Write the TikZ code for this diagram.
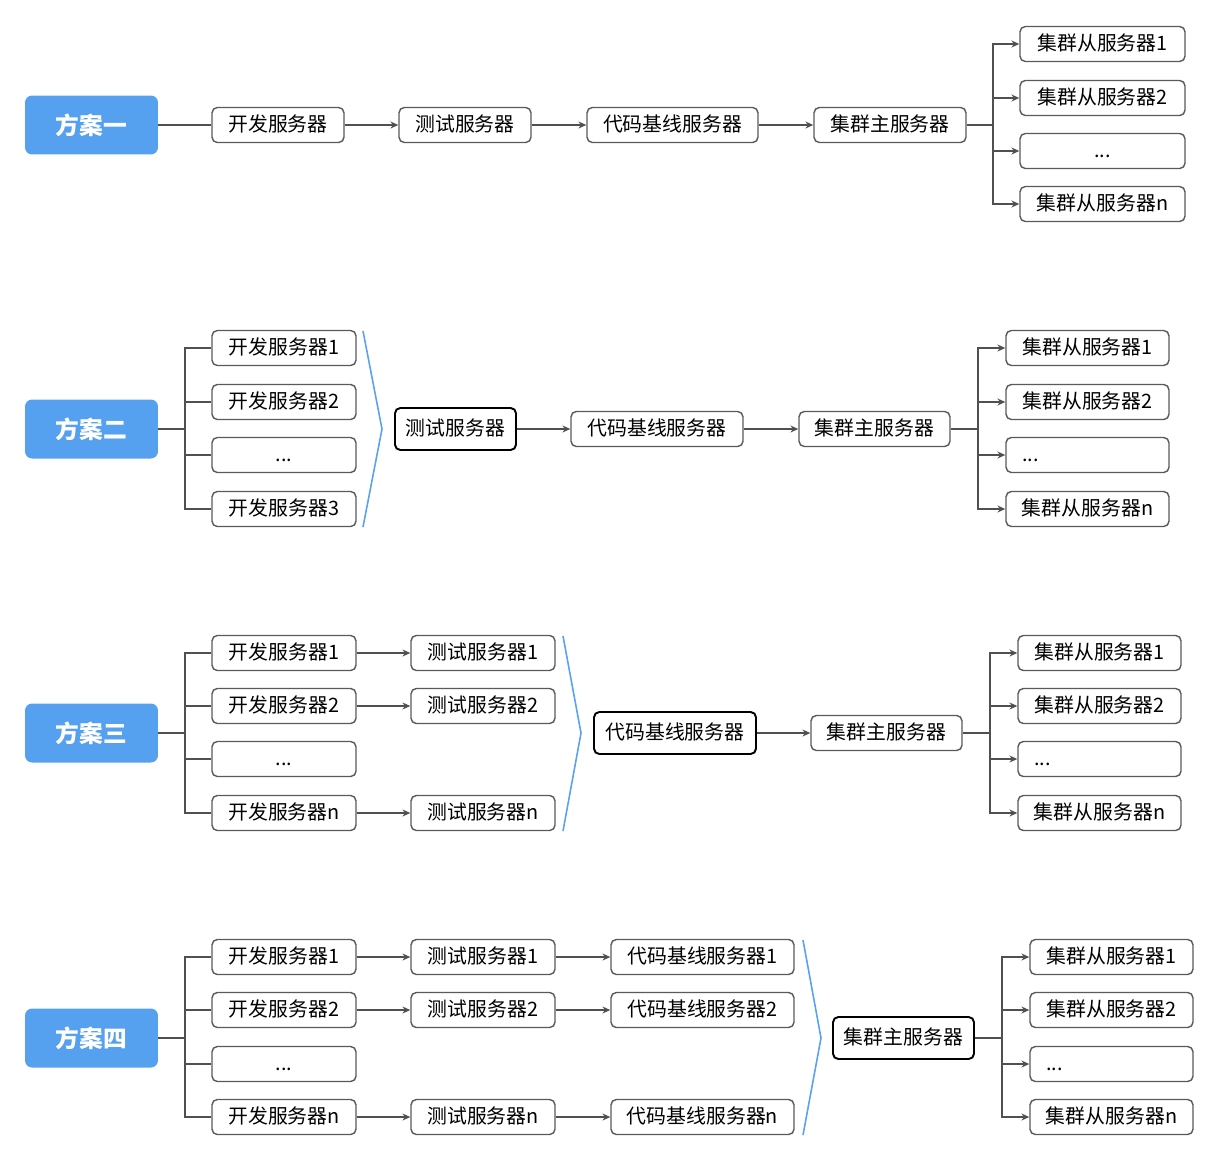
\documentclass[tikz,border=0pt]{standalone}
\usepackage{fontspec}
\newfontfamily\cjk{Noto Sans CJK SC}
\usepackage{tikz}
\usetikzlibrary{arrows.meta, calc}
\definecolor{planBlue}{RGB}{85,161,239}
\definecolor{braceBlue}{RGB}{88,162,240}
\definecolor{boxGray}{RGB}{90,90,90}
\definecolor{lineGray}{RGB}{80,80,80}

\begin{document}
\begin{tikzpicture}[x=0.02cm, y=-0.02cm,
  plan/.style={fill=planBlue, rounded corners=4pt, minimum width=2.66cm, minimum height=1.18cm,
    text=white, font=\cjk\bfseries\fontsize{13.5}{16}\selectfont},
  srv/.style={draw=boxGray, line width=0.8pt, rounded corners=3pt, fill=white, minimum height=0.7cm,
    inner sep=2pt, text height=9pt, text depth=2pt, font=\cjk\fontsize{11.3}{13}\selectfont},
  hub/.style={srv, draw=black, line width=1.1pt, minimum height=0.84cm},
  gap/.style={srv, minimum width=3.26cm, text width=88.4pt, align=left},
  link/.style={draw=lineGray, line width=0.75pt},
  flow/.style={link, -{Stealth[length=4.5pt,width=4pt]}},
  merge/.style={draw=braceBlue, line width=0.9pt}]
\useasboundingbox (0,0) rectangle (1217,1160);

% plan one
\node[plan] (p1) at (91.5,125) {方案一};
\node[srv, minimum width=2.64cm] (d1) at (278,125) {开发服务器};
\node[srv, minimum width=2.64cm] (t1) at (465,125) {测试服务器};
\node[srv, minimum width=3.42cm] (b1) at (672.5,125) {代码基线服务器};
\node[srv, minimum width=3.04cm] (m1) at (890,125) {集群主服务器};
\foreach \i/\y/\n in {1/44/1, 2/98/2, 4/204/n}
  \node[srv, minimum width=3.3cm] (s1-\i) at (1102.5,\y) {集群从服务器\n};
\node[srv, minimum width=3.3cm] (s1-3) at (1102.5,151) {...};
\coordinate (j1) at (993,125);
\draw[link] (p1) -- (d1);
\draw[flow] (d1) -- (t1);
\draw[flow] (t1) -- (b1);
\draw[flow] (b1) -- (m1);
\draw[link] (m1) -- (j1);
\foreach \i in {1,...,4}
  \draw[flow] (j1) |- (s1-\i);

% plan two
\node[plan] (p2) at (91.5,429) {方案二};
\foreach \i/\y/\n in {1/348/1, 2/402/2, 4/509/3}
  \node[srv, minimum width=2.88cm] (d2-\i) at (284,\y) {开发服务器\n};
\node[srv, minimum width=2.88cm] (d2-3) at (284,455) {...};
\node[hub, minimum width=2.42cm] (t2) at (455.5,429) {测试服务器};
\node[srv, minimum width=3.44cm] (b2) at (657,429) {代码基线服务器};
\node[srv, minimum width=3.02cm] (m2) at (874.5,429) {集群主服务器};
\foreach \i/\y/\n in {1/348/1, 2/402/2, 4/509/n}
  \node[srv, minimum width=3.26cm] (s2-\i) at (1087.5,\y) {集群从服务器\n};
\node[gap] (s2-3) at (1087.5,455) {\hspace*{7pt}...};
\coordinate (i2) at (185,429);
\coordinate (j2) at (978,429);
\draw[link] (p2) -- (i2);
\foreach \i in {1,...,4}
  \draw[link] (i2) |- (d2-\i);
\draw[merge] (363,331) -- (382,429) -- (363,527);
\draw[flow] (t2) -- (b2);
\draw[flow] (b2) -- (m2);
\draw[link] (m2) -- (j2);
\foreach \i in {1,...,4}
  \draw[flow] (j2) |- (s2-\i);

% plan three
\node[plan] (p3) at (91.5,733) {方案三};
\foreach \i/\y/\n in {1/653/1, 2/706/2, 4/813/n} {
  \node[srv, minimum width=2.88cm] (d3-\i) at (284,\y) {开发服务器\n};
  \node[srv, minimum width=2.88cm] (t3-\i) at (483,\y) {测试服务器\n};
  \draw[flow] (d3-\i) -- (t3-\i);
}
\node[srv, minimum width=2.88cm] (d3-3) at (284,759) {...};
\node[hub, minimum width=3.24cm] (b3) at (675,733) {代码基线服务器};
\node[srv, minimum width=3.02cm] (m3) at (886.5,733) {集群主服务器};
\foreach \i/\y/\n in {1/653/1, 2/706/2, 4/813/n}
  \node[srv, minimum width=3.26cm] (s3-\i) at (1099.5,\y) {集群从服务器\n};
\node[gap] (s3-3) at (1099.5,759) {\hspace*{7pt}...};
\coordinate (i3) at (185,733);
\coordinate (j3) at (990,733);
\draw[link] (p3) -- (i3);
\foreach \i in {1,...,4}
  \draw[link] (i3) |- (d3-\i);
\draw[merge] (563,636) -- (581,733) -- (563,831);
\draw[flow] (b3) -- (m3);
\draw[link] (m3) -- (j3);
\foreach \i in {1,...,4}
  \draw[flow] (j3) |- (s3-\i);

% plan four
\node[plan] (p4) at (91.5,1038) {方案四};
\foreach \i/\y/\n in {1/957/1, 2/1010/2, 4/1117/n} {
  \node[srv, minimum width=2.88cm] (d4-\i) at (284,\y) {开发服务器\n};
  \node[srv, minimum width=2.88cm] (t4-\i) at (483,\y) {测试服务器\n};
  \node[srv, minimum width=3.66cm] (b4-\i) at (702.5,\y) {代码基线服务器\n};
  \draw[flow] (d4-\i) -- (t4-\i);
  \draw[flow] (t4-\i) -- (b4-\i);
}
\node[srv, minimum width=2.88cm] (d4-3) at (284,1064) {...};
\node[hub, minimum width=2.82cm] (m4) at (903.5,1038) {集群主服务器};
\foreach \i/\y/\n in {1/957/1, 2/1010/2, 4/1117/n}
  \node[srv, minimum width=3.26cm] (s4-\i) at (1111.5,\y) {集群从服务器\n};
\node[gap] (s4-3) at (1111.5,1064) {\hspace*{7pt}...};
\coordinate (i4) at (185,1038);
\coordinate (j4) at (1002,1038);
\draw[link] (p4) -- (i4);
\foreach \i in {1,...,4}
  \draw[link] (i4) |- (d4-\i);
\draw[merge] (803,940) -- (821,1038) -- (803,1135);
\draw[link] (m4) -- (j4);
\foreach \i in {1,...,4}
  \draw[flow] (j4) |- (s4-\i);
\end{tikzpicture}
\end{document}
